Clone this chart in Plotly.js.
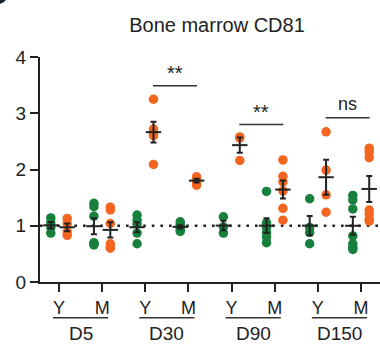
<!DOCTYPE html>
<html>
<head>
<meta charset="utf-8">
<script src="https://cdn.plot.ly/plotly-3.0.1.min.js"></script>
<style>html,body{margin:0;padding:0;background:#fff;}#chart{width:380px;height:344px;}</style>
</head>
<body>
<div id="chart"></div>
<script>
// ---- data ----
const groups = ['D5', 'D30', 'D90', 'D150'];
const ages = ['Y', 'M'];
// one list per column: D5-Y, D5-M, D30-Y, D30-M, D90-Y, D90-M, D150-Y, D150-M
const greenPoints = [
  [1.14, 1.05, 0.97, 0.87],
  [1.40, 1.34, 1.17, 0.70, 0.68, 0.66],
  [1.19, 1.10, 1.03, 0.87, 0.68],
  [1.07, 1.02, 0.98, 0.93, 0.90],
  [1.16, 0.98, 0.87],
  [1.61, 1.05, 0.97, 0.88, 0.80, 0.70],
  [1.48, 0.97, 0.88, 0.68],
  [1.54, 1.46, 1.30, 0.82, 0.68, 0.62, 0.58]
];
const orangePoints = [
  [1.13, 1.04, 0.89, 0.83],
  [1.33, 1.28, 1.04, 0.68, 0.63, 0.60],
  [3.25, 2.72, 2.66, 2.60, 2.09],
  [1.87, 1.84, 1.78, 1.72],
  [2.58, 2.56, 2.16],
  [2.17, 1.88, 1.78, 1.62, 1.31, 1.10],
  [2.67, 1.99, 1.55, 1.24],
  [2.38, 2.31, 2.21, 1.28, 1.20, 1.12, 1.08]
];
const sigLabels = ['**', '**', 'ns'];
const sigGroupIndex = [1, 2, 3];
const sigHeights = [3.49, 2.80, 2.92];
const baseline = 1;

// ---- styling ----
const GREEN = '#17803d';
const ORANGE = '#f4661f';
const INK = '#222222';
const FONT = "Arial, 'Liberation Sans', sans-serif";
const OFF = 0.19;

function mean(a) { return a.reduce((s, v) => s + v, 0) / a.length; }
function sem(a) {
  const m = mean(a);
  const sd = Math.sqrt(a.reduce((s, v) => s + (v - m) * (v - m), 0) / (a.length - 1));
  return sd / Math.sqrt(a.length);
}

const traces = [];
function addSeries(cols, color, off) {
  const xs = [], ys = [];
  cols.forEach((col, i) => col.forEach(v => { xs.push(i + off); ys.push(v); }));
  traces.push({
    type: 'scatter', mode: 'markers', x: xs, y: ys,
    marker: { color: color, size: 9.5, line: { width: 0 } },
    hoverinfo: 'skip', showlegend: false, cliponaxis: false
  });
  traces.push({
    type: 'scatter', mode: 'markers',
    x: cols.map((c, i) => i + off), y: cols.map(mean),
    marker: { symbol: 'line-ew', size: 11, line: { width: 2, color: INK }, color: INK },
    error_y: { type: 'data', array: cols.map(sem), visible: true, color: INK, thickness: 2, width: 3 },
    hoverinfo: 'skip', showlegend: false, cliponaxis: false
  });
}
addSeries(greenPoints, GREEN, -OFF);
addSeries(orangePoints, ORANGE, OFF);

const tickvals = [], ticktext = [];
groups.forEach((g, gi) => ages.forEach((a, ai) => { tickvals.push(gi * 2 + ai); ticktext.push(a); }));

const shapes = [{
  type: 'line', xref: 'paper', yref: 'y', x0: 0, x1: 1, y0: baseline, y1: baseline,
  line: { color: INK, width: 2.6, dash: '2.6px,6px' }, layer: 'below'
}];
const annotations = [];
groups.forEach((g, gi) => {
  shapes.push({
    type: 'line', xref: 'x', yref: 'paper', x0: gi * 2 - 0.14, x1: gi * 2 + 1.14,
    y0: -0.159, y1: -0.159, line: { color: '#333', width: 1.5 }
  });
  annotations.push({
    text: g, xref: 'x', yref: 'paper', x: gi * 2 + 0.5, y: -0.23,
    xanchor: 'center', yanchor: 'middle', showarrow: false,
    font: { family: FONT, size: 19, color: INK }
  });
});
sigLabels.forEach((s, i) => {
  const gi = sigGroupIndex[i];
  shapes.push({
    type: 'line', xref: 'x', yref: 'y', x0: gi * 2 + OFF - 0.01, x1: gi * 2 + 1 + OFF + 0.01,
    y0: sigHeights[i], y1: sigHeights[i], line: { color: '#333', width: 1.5 }
  });
  const isStar = s.indexOf('*') >= 0;
  annotations.push({
    text: s, xref: 'x', yref: 'y', x: gi * 2 + 0.5 + OFF, y: sigHeights[i],
    xanchor: 'center', yanchor: 'bottom', yshift: isStar ? 0 : 2, showarrow: false,
    font: { family: FONT, size: isStar ? 20 : 18, color: INK }
  });
});
annotations.push({
  text: '<b>D</b>', xref: 'paper', yref: 'paper', x: -29 / 340, y: 1.2,
  xanchor: 'right', yanchor: 'bottom', showarrow: false,
  font: { family: FONT, size: 30, color: INK }
});

const layout = {
  width: 380, height: 344,
  margin: { l: 40, r: 0, t: 57, b: 62, pad: 0 },
  paper_bgcolor: '#fff', plot_bgcolor: '#fff',
  font: { family: FONT, color: INK },
  title: {
    text: 'Bone marrow CD81', x: 217 / 380, xanchor: 'center', xref: 'container',
    y: 1 - 25 / 344, yanchor: 'middle', yref: 'container',
    font: { family: FONT, size: 20, color: INK }
  },
  xaxis: {
    range: [-0.44, 7.44], tickvals: tickvals, ticktext: ticktext,
    showgrid: false, zeroline: false, showline: true, linecolor: INK, linewidth: 2,
    ticks: 'outside', ticklen: 8, tickwidth: 2, tickcolor: INK,
    tickfont: { family: FONT, size: 18, color: INK }, fixedrange: true
  },
  yaxis: {
    range: [0, 4], tickvals: [0, 1, 2, 3, 4],
    showgrid: false, zeroline: false, showline: true, linecolor: INK, linewidth: 2,
    ticks: 'outside', ticklen: 8, tickwidth: 2, tickcolor: INK,
    tickfont: { family: FONT, size: 19, color: INK }, fixedrange: true
  },
  shapes: shapes,
  annotations: annotations,
  showlegend: false
};

Plotly.newPlot('chart', traces, layout, { staticPlot: true, displayModeBar: false });
</script>
</body>
</html>
